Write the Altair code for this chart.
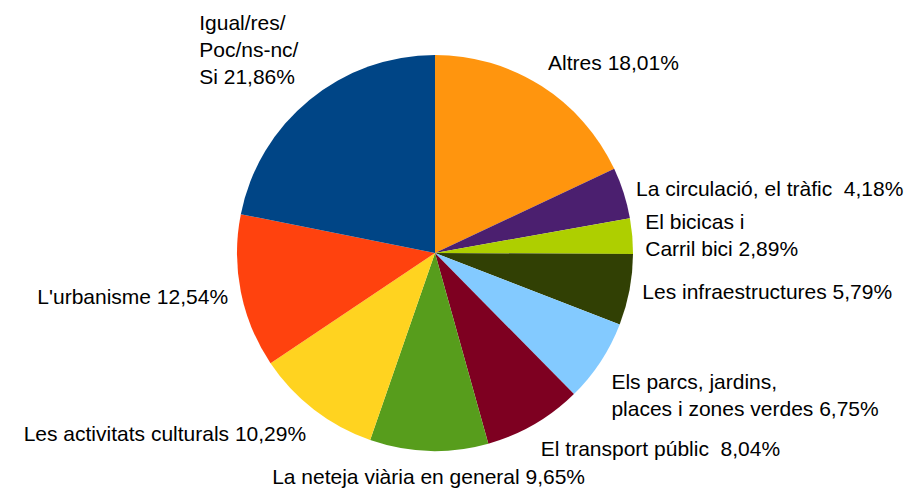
import altair as alt
import pandas as pd

# --- data ---
categories = [
    "Altres",
    "La circulació, el tràfic\u00a0",
    "El bicicas i\nCarril bici",
    "Les infraestructures",
    "Els parcs, jardins,\nplaces i zones verdes",
    "El transport públic\u00a0",
    "La neteja viària en general",
    "Les activitats culturals",
    "L'urbanisme",
    "Igual/res/\nPoc/ns-nc/\nSi",
]
values = [18.01, 4.18, 2.89, 5.79, 6.75, 8.04, 9.65, 10.29, 12.54, 21.86]
colors = ["#FF950E", "#4B1F6F", "#AECF00", "#314004", "#83CAFF",
          "#7E0021", "#579D1C", "#FFD320", "#FF420E", "#004586"]

# label placement group per category (style only)
placement = ["topright", "right", "right2", "right", "lowright",
             "lowright", "bottom", "lowleft", "left", "topleft"]

labels = [f"{c} {str(v).replace('.', ',')}%" for c, v in zip(categories, values)]

df = pd.DataFrame({
    "cat": categories,
    "value": values,
    "idx": list(range(len(categories))),
    "label": labels,
    "grp": placement,
})

CX, CY = 427, 245
R_PIE = 198
R_LAB = 211
FONT = "Liberation Sans"
FS = 21
LH = 27

theta_scale = alt.Scale(domain=[0, 100], range=[0, 6.283185307179586])

base = alt.Chart(df)

pie = base.mark_arc(outerRadius=R_PIE).encode(
    theta=alt.Theta("value:Q", stack=True, scale=theta_scale),
    order=alt.Order("idx:Q"),
    color=alt.Color("cat:N", scale=alt.Scale(domain=categories, range=colors), legend=None),
    x=alt.value(CX),
    y=alt.value(CY),
)

lab = base.transform_joinaggregate(total="sum(value)").transform_window(
    cum="sum(value)", sort=[alt.SortField("idx")], frame=[None, 0]
).transform_calculate(mid="100 * (datum.cum - datum.value / 2) / datum.total")


def text_layer(grp, align, baseline, dx=0, dy=0):
    return lab.transform_filter(alt.datum.grp == grp).mark_text(
        radius=R_LAB, align=align, baseline=baseline, dx=dx, dy=dy,
        font=FONT, fontSize=FS, lineBreak="\n", lineHeight=LH, color="#000000",
    ).encode(
        theta=alt.Theta("mid:Q", stack=False, scale=theta_scale),
        text="label:N",
        x=alt.value(CX),
        y=alt.value(CY),
    )


layers = [
    pie,
    text_layer("topright", "left", "bottom", dy=-1),
    text_layer("right", "left", "middle", dy=1),
    text_layer("right2", "left", "middle", dy=-12),
    text_layer("lowright", "left", "top", dy=3),
    text_layer("bottom", "center", "top", dy=3),
    text_layer("lowleft", "right", "top", dy=4),
    text_layer("left", "right", "middle", dy=4),
    text_layer("topleft", "left", "bottom", dx=-102, dy=-56),
]

chart = alt.layer(*layers).properties(
    width=900, height=482, autosize=alt.AutoSizeParams(type="none"), padding=0,
    background="white",
).configure_view(stroke=None)

chart.save("out.html", embed_options={"renderer": "svg", "actions": False})
